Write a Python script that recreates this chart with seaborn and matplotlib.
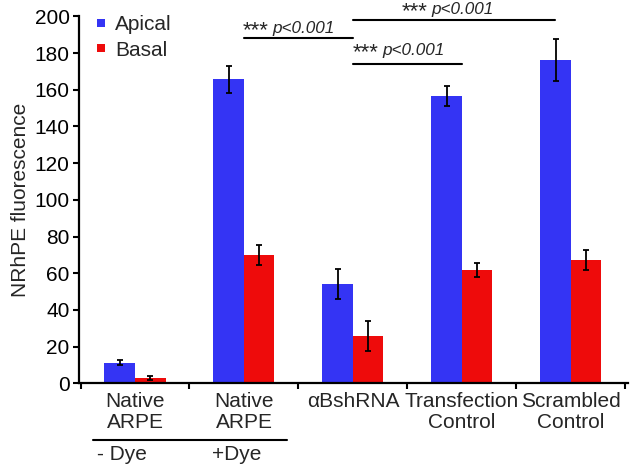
import numpy as np
import pandas as pd
import matplotlib
matplotlib.use("Agg")
import matplotlib.pyplot as plt
import seaborn as sns
from matplotlib.lines import Line2D

# ---- data ----
group_ids = ["native_nodye", "native_dye", "abshrna", "transfection", "scrambled"]
tick_labels = ["Native\nARPE", "Native\nARPE", "\u03b1BshRNA", "Transfection\nControl", "Scrambled\nControl"]
series = ["Apical", "Basal"]
apical = [11.2, 165.7, 54.1, 156.6, 176.2]
apical_err = [1.5, 7.5, 8.0, 5.3, 11.5]
basal = [2.9, 70.0, 25.8, 61.7, 67.2]
basal_err = [1.1, 5.3, 8.0, 3.8, 5.2]
dye_labels = ["- Dye", "+Dye"]
sig_label = "p<0.001"
sig_stars = "***"
y_label = "NRhPE fluorescence"
yticks = [0, 20, 40, 60, 80, 100, 120, 140, 160, 180, 200]

colors = {"Apical": "#3434F4", "Basal": "#EE0B0B"}
FS = 15

sns.set_style("ticks")
plt.rcParams["font.family"] = ["Liberation Sans", "DejaVu Sans"]

df = pd.DataFrame({
    "group": group_ids * 2,
    "series": [series[0]] * 5 + [series[1]] * 5,
    "value": apical + basal,
})
errs = {"Apical": apical_err, "Basal": basal_err}

fig = plt.figure(figsize=(6.33, 4.68), dpi=100)
ax = fig.add_axes([0.1248, 0.181, 0.867, 0.784])

sns.barplot(data=df, x="group", y="value", hue="series", order=group_ids,
            hue_order=series, palette=colors, width=0.56, gap=0,
            errorbar=None, saturation=1, linewidth=0, legend=False, ax=ax)

for cont, s in zip(ax.containers, series):
    xs = [b.get_x() + b.get_width() / 2 for b in cont]
    hs = [b.get_height() for b in cont]
    ax.errorbar(xs, hs, yerr=errs[s], fmt="none", ecolor="black",
                elinewidth=1.3, capsize=2.0, capthick=1.3, zorder=5)

ax.set_xlim(-0.514, 4.523)
ax.set_ylim(0, 200)
ax.set_yticks(yticks)
ax.tick_params(axis="y", labelsize=FS, length=4.3, width=1.5, pad=2.5, colors="black")

ax.set_xticks(range(5))
ax.set_xticklabels(tick_labels, fontsize=FS, linespacing=1.1)
ax.tick_params(axis="x", which="major", length=0, pad=6.5)
ax.set_xticks(np.arange(-0.5, 5.0, 1.0), minor=True)
ax.tick_params(axis="x", which="minor", length=4, width=1.5, direction="out", color="black")
ax.set_xlabel("")
ax.set_ylabel(y_label, fontsize=FS, labelpad=3)

sns.despine(ax=ax)
for sp in ["left", "bottom"]:
    ax.spines[sp].set_linewidth(1.6)
    ax.spines[sp].set_color("black")

# legend
handles = [Line2D([], [], marker="s", linestyle="none", markersize=5.5,
                  markerfacecolor=colors[s], markeredgewidth=0) for s in series]
ax.legend(handles, series, loc="upper left", bbox_to_anchor=(0.028, 1.003),
          frameon=False, fontsize=FS, handlelength=0.6, handletextpad=0.4,
          labelspacing=0.3, borderpad=0, borderaxespad=0)

# dye group labels below axis
tr = ax.get_xaxis_transform()
ax.plot([-0.385, 1.394], [-0.1545, -0.1545], color="black", lw=1.5,
        transform=tr, clip_on=False)
ax.text(-0.349, -0.168, dye_labels[0], transform=tr, ha="left", va="top", fontsize=FS)
ax.text(0.706, -0.168, dye_labels[1], transform=tr, ha="left", va="top", fontsize=FS)

# significance brackets
sigs = [
    (1.0, 2.0, 188, 190.8, 0.99),
    (2.0, 3.0, 174, 178.9, 2.0),
    (2.0, 3.853, 198, 201.3, 2.446),
]
for x0, x1, yl, yt, xs in sigs:
    ax.plot([x0, x1], [yl, yl], color="black", lw=1.5, clip_on=False)
    ax.text(xs, yt - 1.8, sig_stars, ha="left", va="baseline", fontsize=16)
    ax.text(xs + 0.275, yt, sig_label, ha="left", va="baseline", fontsize=12.3,
            style="italic")

fig.savefig("out.png", dpi=100)
